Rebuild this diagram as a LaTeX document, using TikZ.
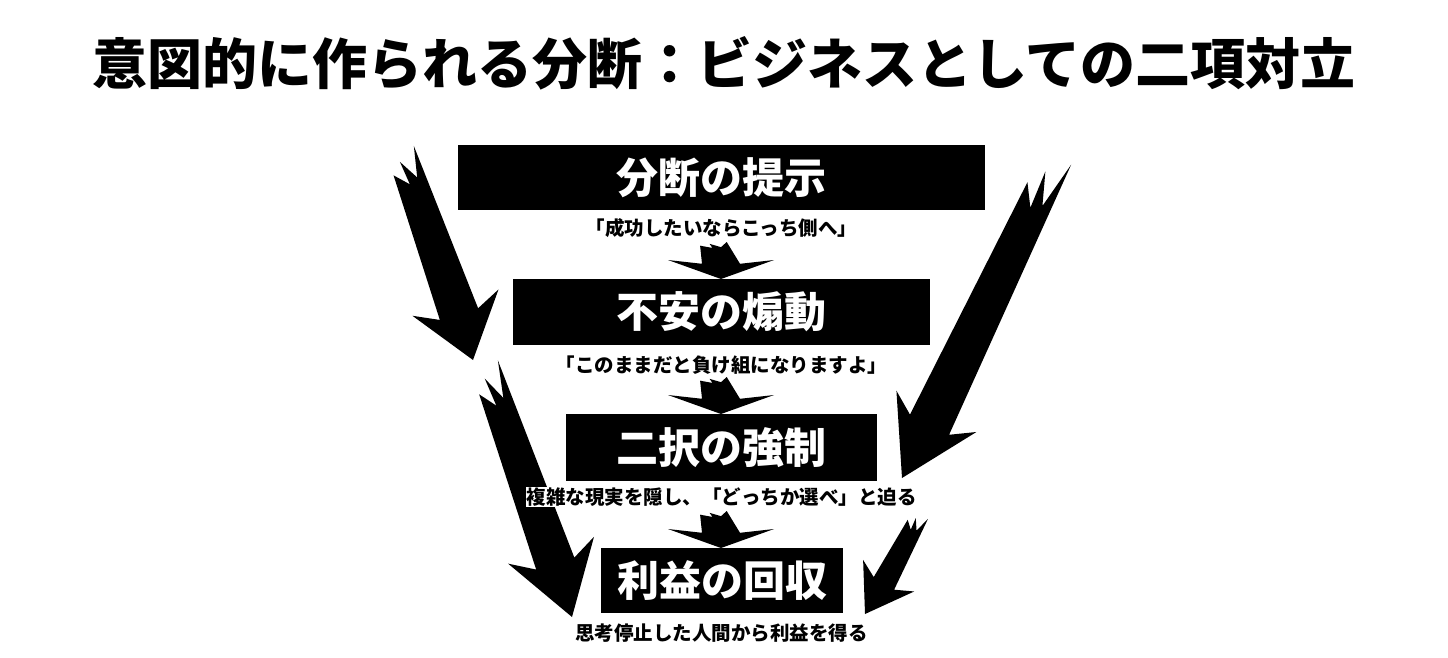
\documentclass[tikz,border=0pt]{standalone}
\usepackage{fontspec}
\newfontfamily\cjk{Noto Sans CJK JP}
\usetikzlibrary{positioning}

% jagged arrow: tip x, tip y, angle, length, head length, head half width, shaft half width
\newcommand{\jagarrow}[7]{%
  \fill[black,shift={(#1,#2)},rotate=#3]
    (0,0) -- (-#5,#6) -- (-0.8*#5,#7) -- (-#4,0.3*#7)
    -- (-0.86*#4,0) -- (-0.95*#4,-0.6*#7) -- (-0.84*#4,-0.45*#7)
    -- (-0.9*#4,-1.1*#7) -- (-0.8*#5,-#7) -- (-#5,-#6) -- cycle;}

\begin{document}
\begin{tikzpicture}[x=1pt,y=1pt,
  stagebox/.style={fill=black,text=white,inner sep=0pt,font=\cjk\bfseries\fontsize{42}{48}\selectfont},
  quote/.style={inner sep=1pt,font=\cjk\bfseries\fontsize{19.5}{22}\selectfont}]
  \useasboundingbox (0,0) rectangle (1448,-658);

  % Side arrows
  \jagarrow{473}{-360}{-73}{222}{60}{45}{20}
  \jagarrow{572}{-617}{-72.6}{267}{70}{45}{20}
  \jagarrow{902}{-478}{-117.3}{356}{75}{45}{22}
  \jagarrow{865}{-614}{-121.7}{114}{45}{30}{12}

  % Down arrows
  \jagarrow{721}{-279}{-90}{37}{19}{53}{19}
  \jagarrow{721}{-414}{-90}{37}{19}{53}{19}
  \jagarrow{721}{-548}{-90}{37}{19}{53}{19}

  % Title
  \node (title) at (724,-63) {\cjk\bfseries\fontsize{55}{64}\selectfont 意図的に作られる分断：ビジネスとしての二項対立};

  % Stages
  \node[stagebox,minimum width=527,minimum height=65] (s1) at (721.5,-177.5) {分断の提示};
  \node[quote] (q1) at (721.5,-228) {「成功したいならこっち側へ」};
  \node[stagebox,minimum width=417,minimum height=66] (s2) at (721.5,-312) {不安の煽動};
  \node[quote] (q2) at (721.5,-365) {「このままだと負け組になりますよ」};
  \node[stagebox,minimum width=311,minimum height=67] (s3) at (721.5,-447.5) {二択の強制};
  \node[quote,fill=white] (q3) at (721.5,-497) {複雑な現実を隠し、「どっちか選べ」と迫る};
  \node[stagebox,minimum width=242,minimum height=65] (s4) at (722,-580.5) {利益の回収};
  \node[quote] (q4) at (721.5,-633) {思考停止した人間から利益を得る};
\end{tikzpicture}
\end{document}
